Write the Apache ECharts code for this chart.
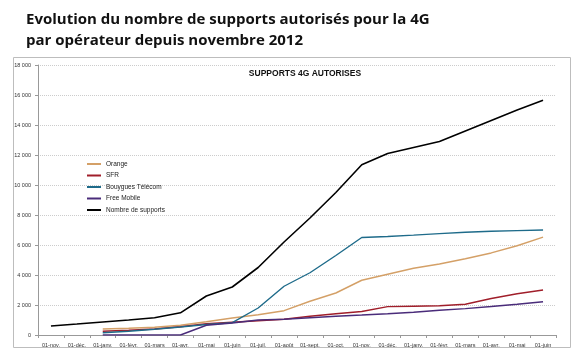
<!DOCTYPE html>
<html><head><meta charset="utf-8">
<script src="https://cdn.jsdelivr.net/npm/echarts@6/dist/echarts.min.js"></script>
<style>html,body{margin:0;padding:0;background:#fff}#c{width:574px;height:357px}</style>
</head><body><div id="c"></div>
<script>
var categories = ['01-nov.','01-déc.','01-janv.','01-févr.','01-mars','01-avr.','01-mai','01-juin','01-juil.','01-août','01-sept.','01-oct.','01-nov.','01-déc.','01-janv.','01-févr.','01-mars','01-avr.','01-mai','01-juin'];
var orange   = [null,null,400,450,520,650,880,1130,1350,1620,2250,2800,3650,4050,4450,4730,5080,5470,5950,6530];
var sfr      = [null,null,250,320,400,550,750,850,950,1050,1250,1420,1570,1890,1920,1950,2050,2430,2750,3000];
var bouygues = [null,null,150,250,380,530,700,820,1800,3250,4150,5300,6500,6570,6660,6760,6850,6920,6960,7000];
var free     = [null,null,0,0,0,0,650,800,1000,1050,1150,1250,1330,1420,1520,1650,1760,1900,2050,2220];
var total    = [600,730,870,1000,1150,1480,2600,3200,4500,6200,7800,9500,11350,12100,12500,12900,13600,14300,15000,15650];
var yTicks   = {min:0, max:18000, interval:2000};

var chart = echarts.init(document.getElementById('c'));
var font = 'Liberation Sans';
function fmt(v){ return v===0 ? '0' : String(v).replace(/\B(?=(\d{3})+(?!\d))/g,' '); }
function s(name, data, color, w){
  return {name:name, type:'line', data:data, symbol:'none', connectNulls:false,
    lineStyle:{color:color, width:w}, itemStyle:{color:color}, animation:false, z: 2};
}
chart.setOption({
  animation:false,
  title:[
    {text:'Evolution du nombre de supports autorisés pour la 4G\npar opérateur depuis novembre 2012', left:21, top:4,
     textStyle:{fontFamily:'Open Sans', fontWeight:'bold', fontSize:15, lineHeight:21, color:'#111'}},
    {text:'SUPPORTS 4G AUTORISES', left:300, top:64, textAlign:'center',
     textStyle:{fontFamily:font, fontWeight:'bold', fontSize:8.5, color:'#111'}}
  ],
  graphic:[{type:'rect', shape:{x:13.5,y:57.5,width:557,height:290}, style:{fill:'none', stroke:'#bdbdbd', lineWidth:1}, silent:true}],
  legend:{orient:'vertical', left:82, top:155, itemWidth:14, itemHeight:2, itemGap:3.5, icon:'rect',
    textStyle:{fontFamily:font, fontSize:6.5, color:'#222', lineHeight:8},
    data:['Orange','SFR','Bouygues Télécom','Free Mobile','Nombre de supports']},
  grid:{left:38, right:18, top:65, bottom:22},
  xAxis:{type:'category', data:categories, boundaryGap:true,
    axisLine:{lineStyle:{color:'#999'}}, axisTick:{show:true, length:3, lineStyle:{color:'#999'}},
    axisLabel:{fontFamily:font, fontSize:5.5, color:'#333', margin:7, interval:0}},
  yAxis:{type:'value', min:yTicks.min, max:yTicks.max, interval:yTicks.interval,
    axisLine:{show:true, lineStyle:{color:'#999'}}, axisTick:{show:true, length:3, lineStyle:{color:'#999'}},
    axisLabel:{fontFamily:font, fontSize:5.5, color:'#333', margin:7, formatter:fmt},
    splitLine:{lineStyle:{color:'#ccc', type:'dotted'}}},
  series:[
    s('Orange', orange, '#D4A067', 1.4),
    s('SFR', sfr, '#A01E2A', 1.4),
    s('Bouygues Télécom', bouygues, '#1E6B8A', 1.4),
    s('Free Mobile', free, '#4A2C7A', 1.4),
    s('Nombre de supports', total, '#000', 1.6)
  ]
});
</script></body></html>
